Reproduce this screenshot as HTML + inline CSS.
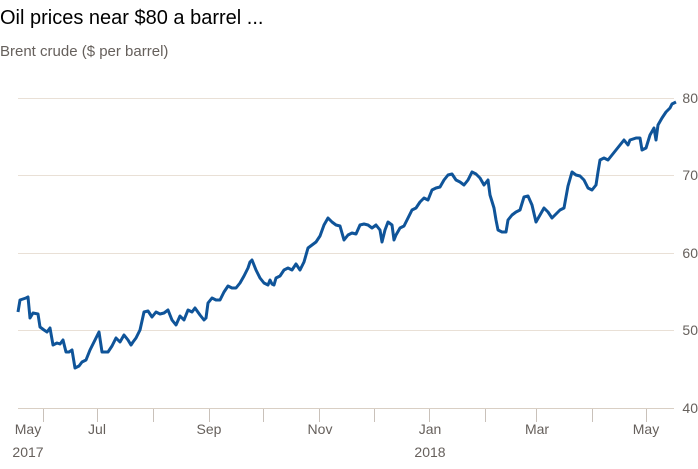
<!DOCTYPE html>
<html><head><meta charset="utf-8"><style>
body{margin:0;background:#fff;width:698px;height:464px;overflow:hidden;font-family:"Liberation Sans",sans-serif}
</style></head><body>
<svg width="698" height="464" viewBox="0 0 698 464" xmlns="http://www.w3.org/2000/svg" font-family="Liberation Sans, sans-serif">
<text x="0" y="24" font-size="20" fill="#000">Oil prices near $80 a barrel ...</text>
<text x="0" y="56" font-size="15" fill="#66605c">Brent crude ($ per barrel)</text>
<g stroke="#e9e0d6" stroke-width="1">
<line x1="18" y1="98.5" x2="674" y2="98.5"/>
<line x1="18" y1="175.5" x2="674" y2="175.5"/>
<line x1="18" y1="253.5" x2="674" y2="253.5"/>
<line x1="18" y1="330.5" x2="674" y2="330.5"/>
</g>
<line x1="18" y1="408.5" x2="674" y2="408.5" stroke="#d9cfc4"/>
<g stroke="#c9c1ba" stroke-width="1">
<line x1="43.5" y1="409" x2="43.5" y2="422"/><line x1="97.5" y1="409" x2="97.5" y2="422"/>
<line x1="153.5" y1="409" x2="153.5" y2="422"/><line x1="209.5" y1="409" x2="209.5" y2="422"/>
<line x1="263.5" y1="409" x2="263.5" y2="422"/><line x1="319.5" y1="409" x2="319.5" y2="422"/>
<line x1="374.5" y1="409" x2="374.5" y2="422"/><line x1="429.5" y1="409" x2="429.5" y2="422"/>
<line x1="485.5" y1="409" x2="485.5" y2="422"/><line x1="536.5" y1="409" x2="536.5" y2="422"/>
<line x1="592.5" y1="409" x2="592.5" y2="422"/><line x1="646.5" y1="409" x2="646.5" y2="422"/>
</g>
<g font-size="14" fill="#66605c" text-anchor="end">
<text x="698" y="103">80</text><text x="698" y="180">70</text><text x="698" y="258">60</text><text x="698" y="335">50</text><text x="698" y="413">40</text>
</g>
<g font-size="14" fill="#66605c" text-anchor="middle">
<text x="28" y="434">May</text><text x="28" y="457">2017</text>
<text x="97" y="434">Jul</text><text x="209" y="434">Sep</text><text x="320" y="434">Nov</text>
<text x="430" y="434">Jan</text><text x="430" y="457">2018</text>
<text x="537" y="434">Mar</text><text x="646" y="434">May</text>
</g>
<polyline fill="none" stroke="#0f5499" stroke-width="3" stroke-linejoin="round" points="18,312 20,300 26,298 28,297 30,318 33,313 38,314 40,327 44,330 47,332 50,328 53,345 57,343 60,344 63,340 66,352 69,352 72,350 75,368 79,366 82,362 86,360 90,350 95,340 99,332 102,352 108,352 112,346 116,338 120,342 124,335 128,340 131,345 133,342 136,338 140,330 144,312 148,311 152,317 156,312 160,314 164,313 168,310 172,320 176,325 180,316 184,320 188,310 192,312 195,308 200,315 204,320 206,318 208,303 212,298 216,300 220,300 224,292 228,286 232,288 236,288 240,283 244,276 248,268 250,262 252,260 256,270 260,278 264,283 268,285 270,280 272,284 274,285 276,278 280,276 284,270 288,268 292,270 296,264 300,270 304,262 308,248 312,245 316,242 320,236 324,225 328,218 332,222 336,225 340,226 344,240 348,235 352,233 356,234 360,225 364,224 368,225 372,228 376,225 380,230 382,242 385,230 388,222 392,225 394,240 396,235 400,228 404,226 408,218 412,210 416,208 420,202 424,198 428,200 432,190 436,188 440,187 444,180 448,175 452,174 456,180 460,182 464,185 468,180 472,172 476,174 480,178 484,185 488,180 490,195 494,208 496,220 498,230 502,232 506,232 508,220 512,215 516,212 520,210 524,197 528,196 532,205 536,222 540,215 544,208 548,212 552,218 556,214 560,210 564,208 568,186 572,172 576,175 580,176 584,180 588,188 592,190 596,185 598,172 600,160 604,158 608,160 612,155 616,150 620,145 624,140 628,145 630,140 636,138 640,138 642,150 646,148 650,135 654,128 656,140 658,125 662,118 666,112 670,108 672,104 676,102"/>
</svg>
</body></html>
